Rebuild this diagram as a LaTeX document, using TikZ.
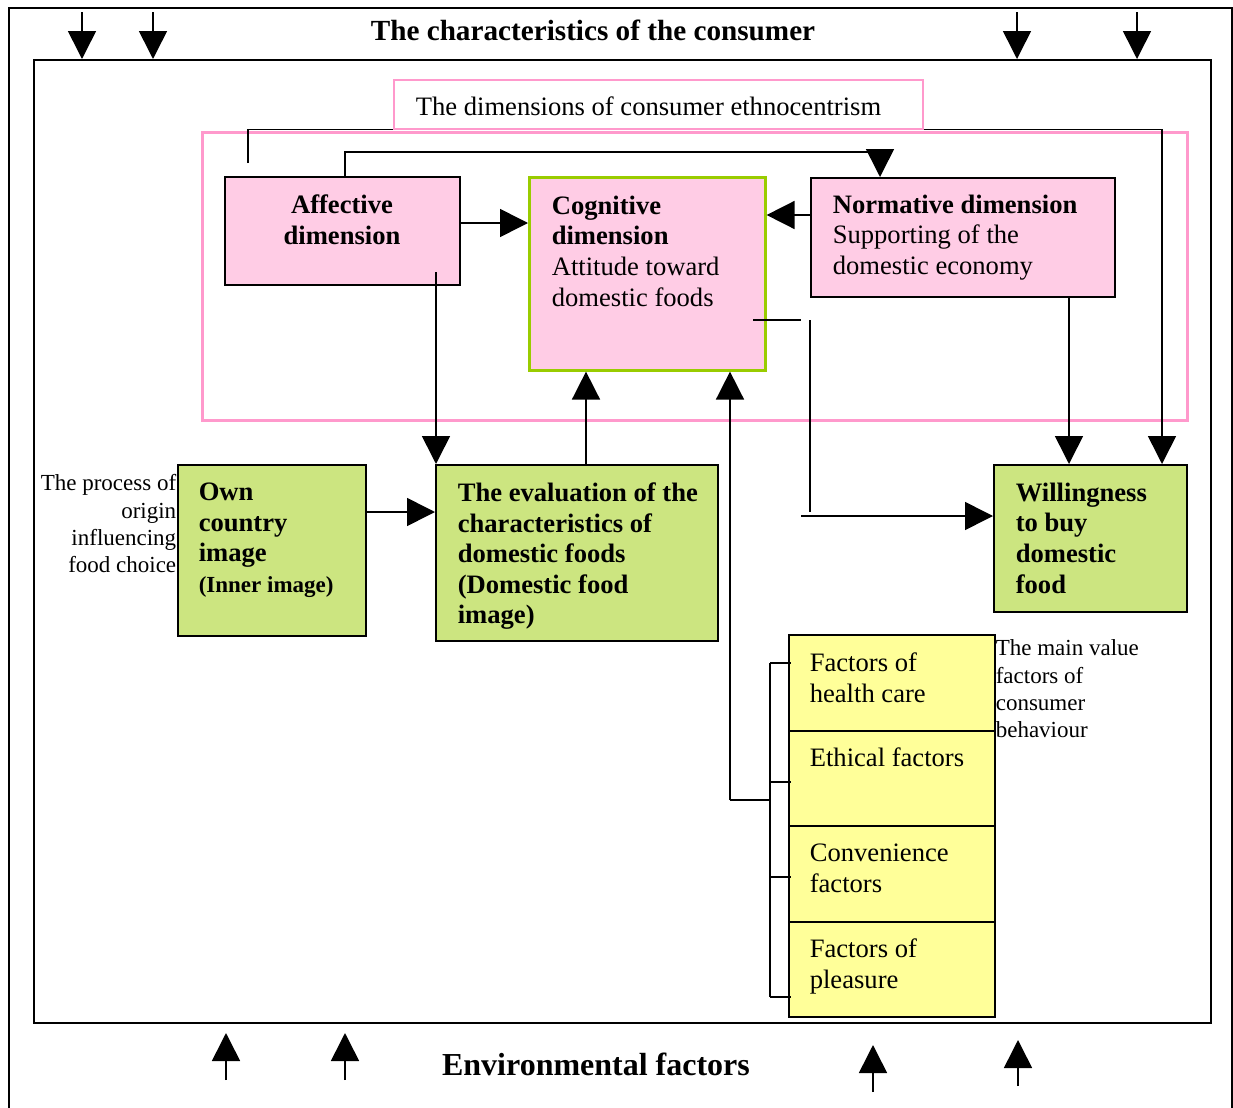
\documentclass[tikz,border=0pt]{standalone}
\usepackage{fontspec}
\setmainfont{Liberation Serif}
\usepackage{xcolor}
\usetikzlibrary{arrows.meta}
\usetikzlibrary{calc}
\usetikzlibrary{positioning}
\definecolor{pinkfill}{RGB}{255,204,229}
\definecolor{pinkline}{RGB}{255,153,204}
\definecolor{greenfill}{RGB}{204,229,128}
\definecolor{greenline}{RGB}{153,204,0}
\definecolor{yellowfill}{RGB}{255,255,153}

\begin{document}
\begin{tikzpicture}[x=0.5pt,y=-0.5pt,>={Triangle[length=14pt,width=14pt]},line width=0.8pt]
	\tikzstyle{frame}=[draw, rectangle, anchor=north west, inner sep=0pt, line width=0.8pt]
	\tikzstyle{pinkbox}=[frame, fill=pinkfill, line width=1pt]
	\tikzstyle{greenbox}=[frame, fill=greenfill, line width=1pt]
	\tikzstyle{yellowbox}=[frame, fill=yellowfill, line width=1pt, minimum width=103pt, minimum height=47.75pt]
	\tikzstyle{txt}=[inner sep=0pt, align=left, font=\fontsize{13.3}{15.3}\selectfont]
	\tikzstyle{bold}=[txt, font=\fontsize{13.3}{15.3}\selectfont\bfseries]
	\tikzstyle{note}=[inner sep=0pt, font=\fontsize{11.5}{13.65}\selectfont]
	\useasboundingbox (0,0) rectangle (1233,1108);

	% frames
	\draw (9,1108) -- (9,8) -- (1232,8) -- (1232,1108);
	\node[frame, minimum width=588.5pt, minimum height=481.5pt] (cons) at (33,59) {};
	\node[frame, draw=pinkline, line width=1.5pt, minimum width=492.5pt, minimum height=144pt] (ethno) at (201,131) {};
	\node[frame, draw=pinkline, fill=white, minimum width=264.5pt, minimum height=24.5pt] (dimlabel) at (393,79) {};

	% boxes
	\node[pinkbox, minimum width=117.5pt, minimum height=54pt] (aff) at (224,176) {};
	\node[pinkbox, draw=greenline, line width=1.3pt, minimum width=118pt, minimum height=96.5pt] (cog) at (528,176) {};
	\node[pinkbox, minimum width=152pt, minimum height=59.5pt] (norm) at (810,177) {};
	\node[greenbox, minimum width=94pt, minimum height=85.5pt] (own) at (177,464) {};
	\node[greenbox, minimum width=141pt, minimum height=88pt] (evalf) at (435,464) {};
	\node[greenbox, minimum width=96.5pt, minimum height=73.5pt] (will) at (993,464) {};
	\node[yellowbox] (health) at (788,634) {};
	\node[yellowbox] (ethic) at (788,729.5) {};
	\node[yellowbox] (conv) at (788,825) {};
	\node[yellowbox] (pleas) at (788,920.5) {};

	% texts
	\node[txt, font=\fontsize{14.6}{16}\selectfont\bfseries] (constitle) at (593,30) {The characteristics of the consumer};
	\node[txt, font=\fontsize{16}{18}\selectfont\bfseries] (envtitle) at (596,1064) {Environmental factors};
	\node[txt, anchor=west] (dimtxt) at (415,106) {The dimensions of consumer ethnocentrism};
	\node[bold, align=center, anchor=north] (afftxt) at (342,194) {Affective\\dimension};
	\node[txt, anchor=north west] (cogtxt) at (551,195) {\textbf{Cognitive}\\\textbf{dimension}\\Attitude toward\\domestic foods};
	\node[txt, anchor=north west] (normtxt) at (832,194) {\textbf{Normative dimension}\\Supporting of the\\domestic economy};
	\node[bold, anchor=north west] (owntxt) at (198,482) {Own\\country\\image\\{\fontsize{11.5}{14}\selectfont(Inner image)}};
	\node[bold, anchor=north west] (evaltxt) at (457,482) {The evaluation of the\\characteristics of\\domestic foods\\(Domestic food\\image)};
	\node[bold, anchor=north west] (willtxt) at (1015,482) {Willingness\\to buy\\domestic\\food};
	\node[txt, anchor=north west] (healthtxt) at (809,652) {Factors of\\health care};
	\node[txt, anchor=north west] (ethictxt) at (809,747) {Ethical factors};
	\node[txt, anchor=north west] (convtxt) at (809,843) {Convenience\\factors};
	\node[txt, anchor=north west] (pleastxt) at (809,938) {Factors of\\pleasure};
	\node[note, align=right, anchor=north east] (origintxt) at (177,474) {The process of\\origin\\influencing\\food choice};
	\node[note, align=left, anchor=north west] (valuetxt) at (995,639) {The main value\\factors of\\consumer\\behaviour};

	% outside influences
	\foreach \x in {82,153,1017,1137}
		\draw[->] (\x,12) -- (cons.north -| \x,0);
	\foreach \x/\ya/\yb in {226/1080/1033,345/1080/1033,873/1092/1045,1018/1086/1040}
		\draw[->] (\x,\ya) -- (\x,\yb);

	% connectors
	\coordinate (afftop) at (248,163);
	\draw (afftop) -- (afftop |- dimlabel.south) -- (dimlabel.south west);
	\draw[->] (dimlabel.south east) -- (dimlabel.south -| 1162,0) -- (will.north -| 1162,0);
	\draw[->] (aff.north -| 345,0) -- (345,152) -- (880,152) -- (norm.north -| 880,0);
	\draw[->] (aff.east |- 0,223) -- (cog.west |- 0,223);
	\draw[->] (norm.west |- 0,215) -- (cog.east |- 0,215);
	\coordinate (affin) at (436,272);
	\draw[->] (affin) -- (evalf.north -| 436,0);
	\draw[->] (own.east |- 0,512) -- (evalf.west |- 0,512);
	\draw[->] (evalf.north -| 586,0) -- (cog.south -| 586,0);
	\draw[->] (norm.south -| 1069,0) -- (will.north -| 1069,0);
	\coordinate (cogin) at (753,320);
	\draw (cogin) -- (801,320);
	\draw (810,320) -- (810,512);
	\draw[->] (801,516) -- (will.west |- 0,516);
	% value factors bracket
	\coordinate (brace) at (770,800);
	\draw[->] (730,800) -- (cog.south -| 730,0);
	\draw (730,800) -- (brace);
	\draw (770,663) -- (770,997);
	\foreach \y in {663,782,877,997}
		\draw (770,\y) -- (791,\y);
\end{tikzpicture}
\end{document}
